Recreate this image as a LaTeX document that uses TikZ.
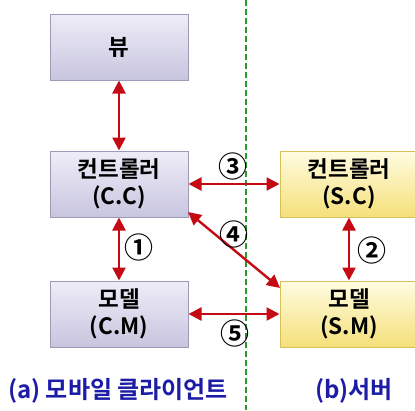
\documentclass[tikz,border=0pt]{standalone}
\usepackage{fontspec}
\setmainfont{Noto Sans CJK KR}[BoldFont={Noto Sans CJK KR Bold}]
\usetikzlibrary{arrows.meta}
\definecolor{lavtop}{HTML}{EEEDF7}
\definecolor{lavbot}{HTML}{C8C5DF}
\definecolor{lavline}{HTML}{9C99B9}
\definecolor{yeltop}{HTML}{FFFCE2}
\definecolor{yelbot}{HTML}{F5E07A}
\definecolor{yelline}{HTML}{D6C05C}
\definecolor{arrowred}{HTML}{C40A12}
\definecolor{divgreen}{HTML}{2A9A2A}
\definecolor{capblue}{HTML}{1C1CA6}
\tikzset{
  clientbox/.style={draw=lavline, line width=1pt, top color=lavtop, bottom color=lavbot,
    minimum width=138pt, minimum height=66pt, inner sep=0pt, align=center,
    font=\bfseries\fontsize{22.5}{27}\selectfont},
  serverbox/.style={clientbox, draw=yelline, top color=yeltop, bottom color=yelbot},
  link/.style={draw=arrowred, line width=2.4pt,
    {Triangle[length=13pt,width=13pt]}-{Triangle[length=13pt,width=13pt]}},
  numlabel/.style={font=\bfseries\fontsize{29}{29}\selectfont, inner sep=0pt},
  caption/.style={text=capblue, font=\bfseries\fontsize{24}{24}\selectfont, inner sep=0pt, anchor=west},
}
\begin{document}
\begin{tikzpicture}[x=1pt, y=-1pt]
\useasboundingbox (0,0) rectangle (415,410);

% client/server divider
\draw[divgreen, line width=1.8pt, dash pattern=on 6pt off 3pt] (246,0) -- (246,410);

% client side
\node[clientbox] (view) at (119,47) {뷰};
\node[clientbox] (cc) at (119,184) {컨트롤러\\(C.C)};
\node[clientbox] (cm) at (119,314) {모델\\(C.M)};

% server side
\node[serverbox] (sc) at (349,184) {컨트롤러\\(S.C)};
\node[serverbox] (sm) at (349,314) {모델\\(S.M)};

% links
\draw[link] (view.south) -- (cc.north);
\draw[link] (cc.south) -- (cm.north);
\draw[link] (cc.east) -- (sc.west);
\draw[link] (cm.east) -- (sm.west);
\draw[link] (sc.south) -- (sm.north);
\coordinate (ccd) at (188,212);
\coordinate (smd) at (280,288);
\draw[link] (ccd) -- (smd);

% link numbers
\node[numlabel] (n1) at (139,247) {①};
\node[numlabel] (n2) at (372,250) {②};
\node[numlabel] (n3) at (233,166) {③};
\node[numlabel] (n4) at (234,234) {④};
\node[numlabel] (n5) at (235,333) {⑤};

% captions
\node[caption] (capa) at (8,391) {(a) 모바일 클라이언트};
\node[caption] (capb) at (315,391) {(b)서버};
\end{tikzpicture}
\end{document}
